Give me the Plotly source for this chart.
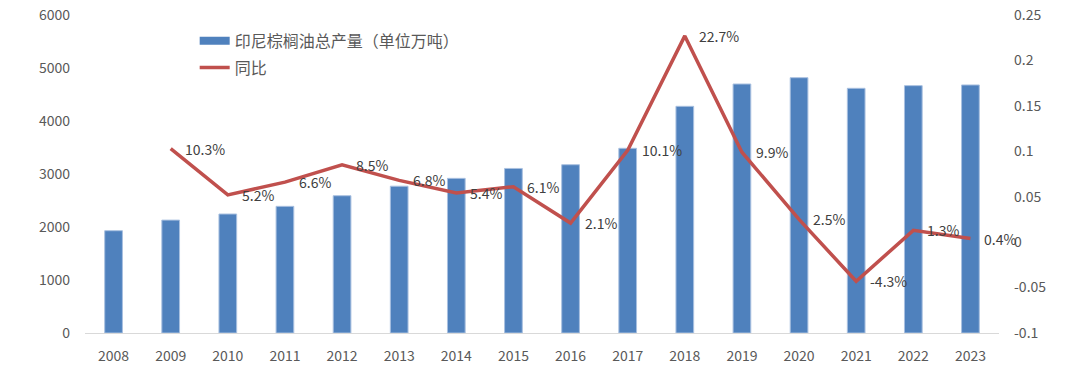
import plotly.graph_objects as go

years = ["2008", "2009", "2010", "2011", "2012", "2013", "2014", "2015",
         "2016", "2017", "2018", "2019", "2020", "2021", "2022", "2023"]
production = [1930, 2130, 2245, 2390, 2590, 2770, 2918, 3105,
              3175, 3485, 4277, 4698, 4817, 4617, 4667, 4680]
yoy = [None, 0.103, 0.052, 0.066, 0.085, 0.068, 0.054, 0.061,
       0.021, 0.101, 0.227, 0.099, 0.025, -0.043, 0.013, 0.004]
bar_name = "印尼棕榈油总产量（单位万吨）"
line_name = "同比"
left_ticks = [0, 1000, 2000, 3000, 4000, 5000, 6000]
right_ticks = [-0.1, -0.05, 0, 0.05, 0.1, 0.15, 0.2, 0.25]
right_tick_text = ["-0.1", "-0.05", "0", "0.05", "0.1", "0.15", "0.2", "0.25"]

FONT = "Noto Sans CJK SC, Noto Sans, sans-serif"
BLUE = "#4F81BD"
RED = "#C0504D"

fig = go.Figure()
fig.add_trace(go.Bar(
    x=years, y=production, name=bar_name, showlegend=False,
    marker=dict(color=BLUE, line=dict(color="#A9C0E0", width=1)),
))
# legend entry for bars (wide rectangle swatch like the original)
fig.add_trace(go.Scatter(
    x=[years[0]], y=[None], name=bar_name, mode="lines",
    line=dict(color=BLUE, width=8), legendgroup="a", hoverinfo="skip",
))
fig.add_trace(go.Scatter(
    x=years, y=yoy, name=line_name, yaxis="y2", mode="lines",
    line=dict(color=RED, width=3.5), legendgroup="b",
))

# data labels (category index used for x position)
for i, v in enumerate(yoy):
    if v is None:
        continue
    fig.add_annotation(
        x=i, y=v, xref="x", yref="y2", text=f"{v*100:.1f}%",
        showarrow=False, xanchor="left", yanchor="middle", xshift=12,
        font=dict(size=14, color="#404040", family=FONT),
    )

# page body has an 8px margin, so the figure is offset by 8px
fig.update_layout(
    width=1072, height=359,
    margin=dict(l=77, r=81, t=7, b=34),
    paper_bgcolor="white", plot_bgcolor="white",
    font=dict(family=FONT, size=14, color="#595959"),
    bargap=0.69,
    showlegend=True,
    legend=dict(x=0.12, y=0.972, xanchor="left", yanchor="top",
                font=dict(size=16, color="#595959"),
                bgcolor="rgba(0,0,0,0)", tracegroupgap=3),
    xaxis=dict(type="category", categoryorder="array", categoryarray=years,
               range=[-0.5, len(years) - 0.5],
               showline=True, linecolor="#D9D9D9", linewidth=1,
               showgrid=False, ticks="", tickfont=dict(size=14, color="#595959"),
               ticklabelstandoff=10, automargin=False, ticklabeloverflow="allow"),
    yaxis=dict(range=[0, 6000], tickvals=left_ticks, showgrid=False, zeroline=False,
               showline=False, ticks="", tickfont=dict(size=14, color="#595959"),
               ticklabelstandoff=14, automargin=False, ticklabeloverflow="allow"),
    yaxis2=dict(range=[-0.1, 0.25], tickvals=right_ticks, ticktext=right_tick_text,
                overlaying="y", side="right", showgrid=False, zeroline=False,
                showline=False, ticks="", tickfont=dict(size=14, color="#595959"),
                ticklabelstandoff=14, automargin=False, ticklabeloverflow="allow"),
)

fig.write_html("out.html")
